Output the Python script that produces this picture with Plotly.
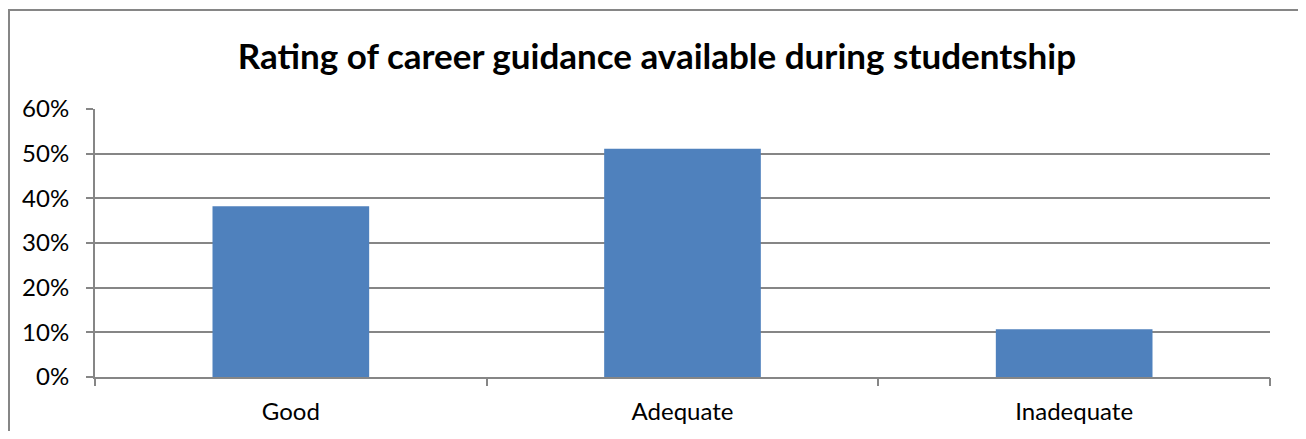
import plotly.graph_objects as go

categories = ["Good", "Adequate", "Inadequate"]
values = [38.2, 51.1, 10.7]
y_ticks = [0, 10, 20, 30, 40, 50, 60]
y_tick_labels = [f"{v}%" for v in y_ticks]

FONT = "Lato"
GRID = "#868686"

W, H = 1298, 423
L, R, T, B = 87, 36, 101, 54
PW, PH = W - L - R, H - T - B

fig = go.Figure()
fig.add_trace(go.Bar(
    x=list(range(len(categories))),
    y=values,
    marker=dict(color="#4F81BD", line=dict(width=0)),
    width=0.4,
    hoverinfo="skip",
))
fig.add_trace(go.Scatter(x=[-0.5, 2.5], y=[0, 0], xaxis="x2", mode="none",
                         showlegend=False, hoverinfo="skip"))

fig.update_layout(
    width=W, height=H,
    margin=dict(l=L, r=R, t=T, b=B, autoexpand=False),
    paper_bgcolor="white", plot_bgcolor="white",
    showlegend=False,
    title=dict(text="<b>Rating of career guidance available during studentship</b>",
               x=0.5, xanchor="center", y=1 - 49 / H, yanchor="middle",
               font=dict(family=FONT, size=35, color="black")),
    font=dict(family=FONT, color="black"),
    xaxis=dict(range=[-0.5, 2.5], tickvals=list(range(len(categories))),
               ticktext=categories, ticks="", showgrid=False, zeroline=False,
               showline=True, linecolor=GRID, linewidth=2, ticklabelstandoff=12,
               automargin=False,
               tickfont=dict(family=FONT, size=24, color="black")),
    xaxis2=dict(range=[-0.5, 2.5], overlaying="x", tickvals=[-0.5, 0.5, 1.5, 2.5],
                showticklabels=False, ticks="outside", ticklen=8, tickcolor=GRID,
                tickwidth=2, showgrid=False, zeroline=False, showline=False,
                side="bottom", anchor="y", automargin=False),
    yaxis=dict(range=[0, 60], tickvals=y_ticks, ticktext=y_tick_labels,
               ticks="outside", ticklen=7, tickcolor=GRID, tickwidth=2,
               showgrid=True, gridcolor=GRID, gridwidth=1.8, zeroline=False,
               showline=True, linecolor=GRID, linewidth=2, ticklabelstandoff=12,
               automargin=False,
               tickfont=dict(family=FONT, size=24, color="black")),
    bargap=0.6,
    shapes=[dict(type="rect", xref="paper", yref="paper",
                 x0=(1 - L) / PW, x1=(1294 - L) / PW,
                 y0=-0.5, y1=1 + (T - 2) / PH,
                 line=dict(color=GRID, width=2), fillcolor="rgba(0,0,0,0)",
                 layer="below")],
)
fig.write_html("out.html")
